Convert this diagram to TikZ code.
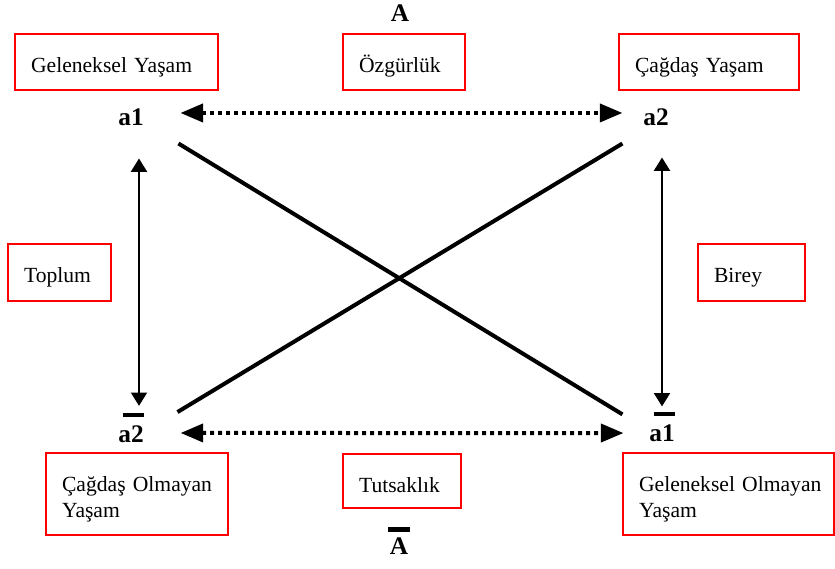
\documentclass[tikz,border=0pt]{standalone}
\usepackage{fontspec}
\setmainfont{Liberation Serif}
\usetikzlibrary{arrows.meta}

\tikzset{every picture/.style={line width=0.75pt}}

\begin{document}
\begin{tikzpicture}[x=0.75pt,y=0.75pt,yscale=-1,xscale=1,
  kutu/.style={draw=red, line width=1.6pt, anchor=north west, inner xsep=12pt, inner ysep=3pt, text height=25.5pt, align=left, font=\fontsize{16.2}{19.5}\selectfont},
  etiket/.style={inner sep=0pt, font=\fontsize{19}{18.75}\selectfont\bfseries},
  noktali/.style={line width=3pt, dash pattern=on 3pt off 3pt, {Triangle[length=17pt,width=13.5pt]}-{Triangle[length=17pt,width=13.5pt]}},
  dikok/.style={line width=1.5pt, {Triangle[length=10pt,width=12pt]}-{Triangle[length=10pt,width=12pt]}},
  capraz/.style={line width=3pt}]
%set diagram left start at 0, and has height of 568
\useasboundingbox (0,0) rectangle (835,568);

% Text Node
\draw (400,13.5) node [etiket] (Aust) {A};
% Text Node
\draw (131,117.5) node [etiket] (a1ust) {a1};
% Text Node
\draw (656,117.5) node [etiket] (a2ust) {a2};
% Text Node
\draw (131,427.5) node [etiket, align=right] (a2alt) {\rule{15.75pt}{3.5pt}\\a2};
% Text Node
\draw (662,426.5) node [etiket, align=right] (a1alt) {\rule{15.75pt}{3.5pt}\\a1};
% Text Node
\draw (399,541) node [etiket, align=center] (Aalt) {\rule{16.5pt}{3.5pt}\\[-1.5pt]A};

%Shape: Rectangle [id:gelen]
\draw (14,33) node [kutu, text width=128.25pt, text depth=10.5pt] (gelen) {Geleneksel Yaşam};
%Shape: Rectangle [id:ozgur]
\draw (342,33) node [kutu, text width=67.5pt, text depth=10.5pt] (ozgur) {Özgürlük};
%Shape: Rectangle [id:cagdas]
\draw (618,33) node [kutu, text width=111pt, text depth=10.5pt] (cagdas) {Çağdaş Yaşam};
%Shape: Rectangle [id:toplum]
\draw (7,243) node [kutu, text width=53.25pt, text depth=11.25pt] (toplum) {Toplum};
%Shape: Rectangle [id:birey]
\draw (697,243) node [kutu, text width=56.25pt, text depth=11.25pt] (birey) {Birey};
%Shape: Rectangle [id:cagol]
\draw (45,452) node [kutu, text width=112.5pt, text depth=30pt] (cagol) {\mbox{Çağdaş Olmayan}\\Yaşam};
%Shape: Rectangle [id:tutsak]
\draw (342,453) node [kutu, text width=64.5pt, text depth=9pt] (tutsak) {Tutsaklık};
%Shape: Rectangle [id:genol]
\draw (622,452) node [kutu, text width=134.25pt, text depth=30pt] (genol) {\mbox{Geleneksel Olmayan}\\Yaşam};

%Straight Lines [id:ustok]
\draw [noktali] ([xshift=27.2pt,yshift=-3.4pt]a1ust.east) -- ([xshift=-15.3pt,yshift=-3.4pt]a2ust.west) ;
%Straight Lines [id:altok]
\draw [noktali] ([xshift=27.3pt,yshift=4.1pt]a2alt.east) -- ([xshift=-19pt,yshift=4.9pt]a1alt.west) ;
%Straight Lines [id:solok]
\draw [dikok] ([xshift=6pt,yshift=24pt]a1ust.south) -- ([xshift=6pt,yshift=-4.65pt]a2alt.north) ;
%Straight Lines [id:sagok]
\draw [dikok] ([xshift=4.5pt,yshift=23.25pt]a2ust.south) -- ([yshift=-3.5pt]a1alt.north) ;
%Straight Lines [id:capraz1]
\draw [capraz] ([xshift=25.7pt,yshift=12.75pt]a1ust.south east) -- ([xshift=-19.8pt,yshift=2.5pt]a1alt.north west) ;
%Straight Lines [id:capraz2]
\draw [capraz] ([xshift=-15.3pt,yshift=12.75pt]a2ust.south west) -- ([xshift=25pt]a2alt.north east) ;

\end{tikzpicture}
\end{document}
